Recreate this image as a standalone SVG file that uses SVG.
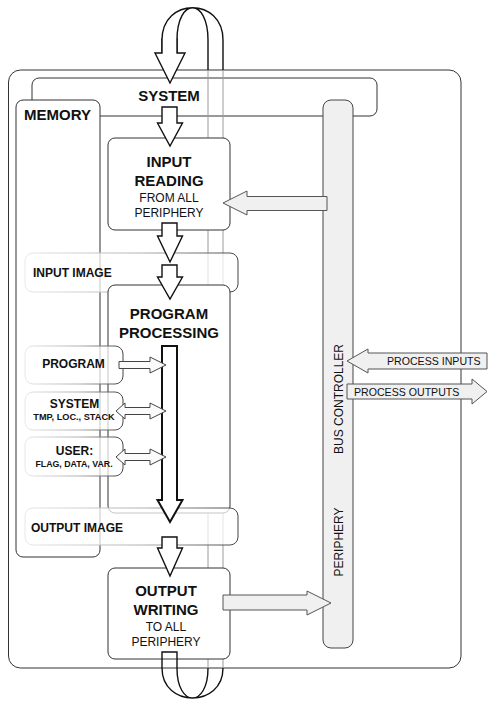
<svg xmlns="http://www.w3.org/2000/svg" width="492" height="707" viewBox="0 0 492 707">
<defs>
<linearGradient id="fade" x1="0" y1="0" x2="1" y2="0">
<stop offset="0" stop-color="#e8e8e8"/>
<stop offset="0.55" stop-color="#b0b0b0"/>
<stop offset="1" stop-color="#444"/>
</linearGradient>
<style>
text{font-family:"Liberation Sans",Arial,sans-serif;fill:#111}
.b15{font-size:15px;font-weight:bold;text-anchor:middle}
.n12{font-size:12px;text-anchor:middle}
.b12{font-size:12px;font-weight:bold}
.b12m{font-size:12px;font-weight:bold;text-anchor:middle}
.b9{font-size:9.2px;font-weight:bold;text-anchor:middle}
.p11{font-size:10.6px}
.box{fill:#fff;stroke:#333;stroke-width:1}
.fadebox{fill:#fff;fill-opacity:0.72;stroke:url(#fade);stroke-width:1}
.bus{fill:#f0f0f0;stroke:#444;stroke-width:1}
.blk{fill:#fff;stroke:#111;stroke-width:1.4;stroke-linejoin:miter}
.grey{fill:#f0f0f0;stroke:#555;stroke-width:1}
.small{fill:#fbfbfb;stroke:#444;stroke-width:1}
.loop{fill:none;stroke:#111;stroke-width:1.4}
.track{fill:none;stroke:#9a9a9a;stroke-width:1}
</style>
</defs>
<g id="plc">
<rect x="8.5" y="70" width="452.5" height="598" rx="12" class="box"/>
</g>
<g id="system">
<rect x="32" y="78" width="345" height="38" rx="7" class="box"/>
</g>
<g id="tracks">
<path class="track" d="M208,70V668M223,70V668"/>
</g>
<g id="memory">
<rect x="16" y="100" width="84" height="457" rx="7" class="box"/>
</g>
<g id="bus">
<rect x="323" y="100" width="30" height="548" rx="8" class="bus"/>
</g>
<g id="input-reading">
<rect x="108" y="138" width="122" height="92" rx="7" class="box"/>
</g>
<g id="input-image">
<rect x="25" y="253" width="213" height="39" rx="8" class="fadebox"/>
</g>
<g id="program-processing">
<rect x="108" y="285" width="122" height="228" rx="7" class="box"/>
</g>
<g id="program">
<rect x="25" y="346" width="98" height="38" rx="8" class="fadebox"/>
</g>
<g id="system-mem">
<rect x="25" y="392" width="98" height="38" rx="8" class="fadebox"/>
</g>
<g id="user-mem">
<rect x="25" y="437" width="98" height="39" rx="8" class="fadebox"/>
</g>
<g id="output-image">
<rect x="25" y="508" width="213" height="37" rx="8" class="fadebox"/>
</g>
<g id="output-writing">
<rect x="108" y="568" width="122" height="91" rx="7" class="box"/>
</g>
<g id="connectors">
<path class="loop" d="M162,53V40C162,-3 223,-3 223,40V70M177,53V40C177,-3 208,-3 208,40V70"/>
<path class="blk" d="M162,38V53H155L170,83L185,53H177V38"/>
<path class="blk" d="M162,107H177V123H182.5L170,146L157.5,123H162Z"/>
<path class="blk" d="M162,223H177V236H182.5L170,262L157.5,236H162Z"/>
<path class="blk" d="M162,265H177V277H182.5L170,299L157.5,277H162Z"/>
<path class="blk" style="stroke-width:2" d="M162,346H177V500H182.5L170,522L157.5,500H162Z"/>
<path class="blk" d="M162,537H177V548H182.5L170,576L157.5,548H162Z"/>
<path class="loop" d="M162,668V652H177V668M162,668C162,708 223,708 223,668M177,668C177,708 208,708 208,668"/>
<path class="grey" d="M327,196.5H247V191L223,203L247,215V210.5H327Z"/>
<path class="grey" d="M223,595H307V591L331,603L307,615V610H223Z"/>
<path class="grey" d="M487,353V369H368V373L347,361L368,349V353Z"/>
<path class="grey" d="M347,384H472V379L487,391.5L472,404V399H347Z"/>
<path class="small" d="M119,361.5H150V357L166,365L150,373V368.5H119Z"/>
<path class="small" d="M116,411L125,403V407.5H150V403L166,411L150,419V414.5H125V419Z"/>
<path class="small" d="M116,457L125,449V453.5H150V449L166,457L150,465V460.5H125V465Z"/>
</g>
<g id="labels">
<text x="169" y="101" class="b15">SYSTEM</text>
<text x="24" y="120" class="b15" style="text-anchor:start">MEMORY</text>
<text x="169" y="166.5" class="b15">INPUT</text>
<text x="169" y="185.5" class="b15">READING</text>
<text x="169" y="202" class="n12">FROM ALL</text>
<text x="169" y="217" class="n12">PERIPHERY</text>
<text x="33" y="277" class="b12">INPUT IMAGE</text>
<text x="169" y="319" class="b15">PROGRAM</text>
<text x="169" y="338" class="b15">PROCESSING</text>
<text x="73.5" y="368" class="b12m">PROGRAM</text>
<text x="74.5" y="408" class="b12m">SYSTEM</text>
<text x="74" y="420" class="b9">TMP, LOC., STACK</text>
<text x="74.5" y="455" class="b12m">USER:</text>
<text x="74" y="467" class="b9" style="font-size:8.8px">FLAG, DATA, VAR.</text>
<text x="31" y="532" class="b12">OUTPUT IMAGE</text>
<text x="166" y="596" class="b15">OUTPUT</text>
<text x="166" y="615" class="b15">WRITING</text>
<text x="166" y="631" class="n12">TO ALL</text>
<text x="166" y="646" class="n12">PERIPHERY</text>
<text transform="translate(342.5,399) rotate(-90)" class="n12">BUS CONTROLLER</text>
<text transform="translate(342.5,542) rotate(-90)" class="n12">PERIPHERY</text>
<text x="387" y="365" class="p11">PROCESS INPUTS</text>
<text x="354" y="396" class="p11">PROCESS OUTPUTS</text>
</g>
</svg>
